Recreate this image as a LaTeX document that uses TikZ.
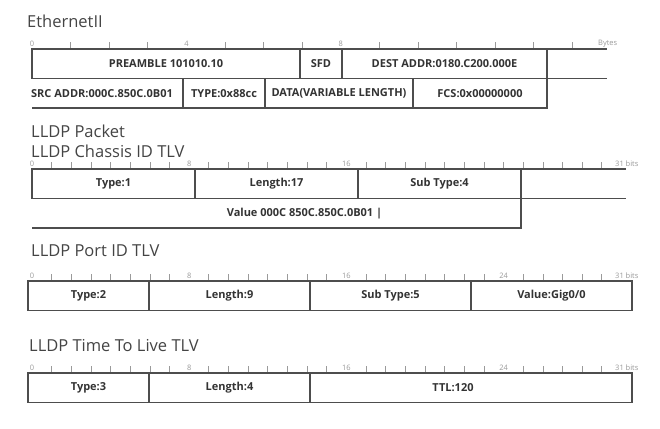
\documentclass[tikz,border=0pt]{standalone}
\usepackage{fontspec}
\setmainfont{Open Sans}
\usetikzlibrary{positioning}
\definecolor{BoxLine}{HTML}{4D4D4D}
\definecolor{FieldText}{HTML}{333333}
\definecolor{TitleText}{HTML}{444444}
\definecolor{RulerMark}{HTML}{9A9A9A}

\begin{document}
\begin{tikzpicture}[
    x=1pt,y=-1pt,
    node distance=0pt,
    field/.style={draw=BoxLine,line width=1.1pt,inner sep=0pt,outer sep=0pt,minimum height=29.5pt,font=\bfseries\fontsize{11}{13}\selectfont,text=FieldText},
    blank/.style={field,draw=none},
    title/.style={anchor=west,inner sep=0pt,font=\fontsize{16.5}{20}\selectfont,text=TitleText},
    rulerlabel/.style={inner sep=0pt,font=\fontsize{7.5}{8}\selectfont,text=RulerMark},
    rulerline/.style={BoxLine,line width=1.1pt},
    rulertick/.style={RulerMark,line width=0.8pt}
  ]
    \useasboundingbox (0,0) rectangle (660,428);

    % EthernetII frame
    \node[title] (ethtitle) at (27,21) {EthernetII};
    \foreach \k in {1,2,3,5,6,7,9,10,...,14}
      \draw[rulertick] (32+38.6*\k,49) -- ++(0,-7);
    \foreach \k in {0,4,8}
      \node[rulerlabel] at (32+38.6*\k,44) {\k};
    \node[rulerlabel,anchor=west] (ethunit) at (598,44) {Bytes};
    \coordinate (ethend) at (607,49);
    \coordinate (ethtail) at (607,78.5);

    \node[field,anchor=north west,minimum width=268pt] (preamble) at (32,49) {PREAMBLE 101010.10};
    \node[field,right=of preamble,minimum width=42pt] (sfd) {SFD};
    \node[field,right=of sfd,minimum width=205pt] (dest) {DEST ADDR:0180.C200.000E};
    \draw[rulerline] (preamble.north west) -- (ethend);
    \draw[rulerline] (dest.south east) -- (ethtail);

    \node[field,anchor=north west,minimum width=82pt] (ethtype) at (183,78.5) {TYPE:0x88cc};
    \node[blank] (src) at (102,93.25) {SRC ADDR:000C.850C.0B01};
    \node[field,right=of ethtype,minimum width=148pt] (data) {DATA(VARIABLE LENGTH)};
    \node[field,right=of data,minimum width=134pt] (fcs) {FCS:0x00000000};
    \draw[rulerline] (preamble.south west |- ethtype.south) -- (ethtype.south west);

    % LLDP chassis ID
    \node[title] (lldptitle) at (31,131) {LLDP Packet};
    \node[title] (chassistitle) at (31,151) {LLDP Chassis ID TLV};
    \foreach \k in {1,...,7,9,10,...,15,17,18,...,29}
      \draw[rulertick] (32+19.65*\k,169) -- ++(0,-7);
    \foreach \k in {0,8,16}
      \node[rulerlabel] at (32+19.65*\k,164) {\k};
    \node[rulerlabel,anchor=west] (chassisunit) at (615,164) {31 bits};
    \coordinate (chassisend) at (626,169);
    \coordinate (chassistail) at (626,198.5);

    \node[field,anchor=north west,minimum width=163pt] (ctype) at (32,169) {Type:1};
    \node[field,right=of ctype,minimum width=163pt] (clen) {Length:17};
    \node[field,right=of clen,minimum width=163pt] (csub) {Sub Type:4};
    \draw[rulerline] (ctype.north west) -- (chassisend);
    \draw[rulerline] (csub.south east) -- (chassistail);
    \node[blank,anchor=north west,minimum width=489pt] (cvalue) at (ctype.south west) {};
    \node[blank] (cvaluetext) at ([xshift=28pt]cvalue.center) {Value 000C 850C.850C.0B01 |};
    \draw[rulerline] (cvalue.south west) -- (cvalue.south east) -- (cvalue.north east);

    % LLDP port ID
    \node[title] (porttitle) at (31,251) {LLDP Port ID TLV};
    \foreach \k in {1,...,7,9,10,...,15,17,18,...,23,25,26,...,29}
      \draw[rulertick] (32+19.65*\k,281) -- ++(0,-7);
    \foreach \k in {0,8,16,24}
      \node[rulerlabel] at (32+19.65*\k,276) {\k};
    \node[rulerlabel,anchor=west] (portunit) at (615,276) {31 bits};

    \node[field,anchor=north west,minimum width=121pt] (ptype) at (28,281) {Type:2};
    \node[field,right=of ptype,minimum width=161pt] (plen) {Length:9};
    \node[field,right=of plen,minimum width=161pt] (psub) {Sub Type:5};
    \node[field,right=of psub,minimum width=161pt] (pvalue) {Value:Gig0/0};

    % LLDP time to live
    \node[title] (ttltitle) at (29,346) {LLDP Time To Live TLV};
    \foreach \k in {1,...,7,9,10,...,15,17,18,...,23,25,26,...,29}
      \draw[rulertick] (32+19.65*\k,373) -- ++(0,-7);
    \foreach \k in {0,8,16,24}
      \node[rulerlabel] at (32+19.65*\k,368) {\k};
    \node[rulerlabel,anchor=west] (ttlunit) at (615,368) {31 bits};

    \node[field,anchor=north west,minimum width=121pt] (ttype) at (28,373) {Type:3};
    \node[field,right=of ttype,minimum width=161pt] (tlen) {Length:4};
    \node[field,right=of tlen,minimum width=322pt] (tttl) {};
    \node[blank] (tttltext) at ([xshift=-18pt]tttl.center) {TTL:120};
  \end{tikzpicture}
\end{document}
